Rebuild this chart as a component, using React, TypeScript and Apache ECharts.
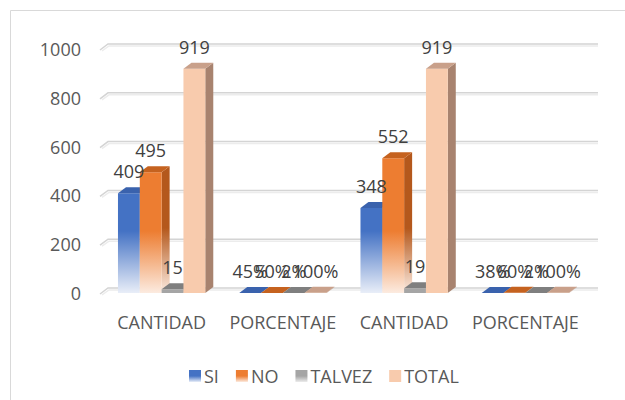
import React, { useEffect, useRef } from "react";
import * as echarts from "echarts";

const categories = ["CANTIDAD", "PORCENTAJE", "CANTIDAD", "PORCENTAJE"];
const seriesNames = ["SI", "NO", "TALVEZ", "TOTAL"];
const siValues = [409, 0.45, 348, 0.38];
const noValues = [495, 0.5, 552, 0.6];
const talvezValues = [15, 0.02, 19, 0.02];
const totalValues = [919, 1, 919, 1];
const yTicks = [0, 200, 400, 600, 800, 1000];

const FONT = "'Open Sans', 'Liberation Sans', sans-serif";
const FS = 18;
const GROUP_RATIO = 0.72;
const DX = 8;
const DY = -6;

const palette = [
  { front: "#4472C4", side: "#2F5597", top: "#3A62AD", fade: "#e9eef8" },
  { front: "#ED7D31", side: "#B4581C", top: "#C5621F", fade: "#fcebe0" },
  { front: "#A5A5A5", side: "#7B7B7B", top: "#7F7F7F", fade: null },
  { front: "#F8CBAD", side: "#A8836F", top: "#C9A08A", fade: null },
];

function fmt(cat: number, v: number) {
  return cat % 2 === 1 ? Math.round(v * 100) + "%" : String(v);
}

function makeRender(si: number) {
  const c = palette[si];
  return (params: any, api: any) => {
    const cat = api.value(0);
    const v = api.value(1);
    const base = api.coord([cat, 0]);
    const top = api.coord([cat, v]);
    const band = api.size([1, 0])[0];
    const groupW = band * GROUP_RATIO;
    const bw = groupW / 4;
    const x0 = base[0] - groupW / 2 + si * bw;
    const x1 = x0 + bw;
    const yB = base[1];
    const yT = top[1];
    const h = Math.max(yB - yT, 0.01);
    let frontFill: any = c.front;
    let sideFill: any = c.side;
    if (c.fade && h > 20) {
      const s = Math.max(0, 1 - 62 / h);
      frontFill = new echarts.graphic.LinearGradient(0, 0, 0, 1, [
        { offset: 0, color: c.front },
        { offset: s, color: c.front },
        { offset: 1, color: c.fade },
      ]);
      sideFill = new echarts.graphic.LinearGradient(0, 0, 0, 1, [
        { offset: 0, color: c.side },
        { offset: s, color: c.side },
        { offset: 1, color: c.fade },
      ]);
    }
    const children: any[] = [
      {
        type: "polygon",
        shape: { points: [[x1, yT], [x1 + DX, yT + DY], [x1 + DX, yB + DY], [x1, yB]] },
        style: { fill: sideFill },
      },
      {
        type: "rect",
        shape: { x: x0, y: yT, width: bw, height: yB - yT },
        style: { fill: frontFill },
      },
      {
        type: "polygon",
        shape: { points: [[x0, yT], [x0 + DX, yT + DY], [x1 + DX, yT + DY], [x1, yT]] },
        style: { fill: c.top },
      },
      {
        type: "text",
        z2: 100,
        style: {
          text: fmt(cat, v),
          x: (x0 + x1) / 2,
          y: yT - 22,
          align: "center",
          verticalAlign: "middle",
          fontSize: FS,
          fontFamily: FONT,
          fill: "#404040",
        },
      },
    ];
    return { type: "group", children };
  };
}

export default function App() {
  const ref = useRef<HTMLDivElement>(null);
  useEffect(() => {
    if (!ref.current) return;
    const chart = echarts.init(ref.current, null, { renderer: "svg" });
    const allValues = [siValues, noValues, talvezValues, totalValues];
    const legendColors = [
      new echarts.graphic.LinearGradient(0, 0, 0, 1, [
        { offset: 0, color: "#4472C4" },
        { offset: 0.5, color: "#4472C4" },
        { offset: 1, color: "#e9eef8" },
      ]),
      new echarts.graphic.LinearGradient(0, 0, 0, 1, [
        { offset: 0, color: "#ED7D31" },
        { offset: 0.5, color: "#ED7D31" },
        { offset: 1, color: "#fcebe0" },
      ]),
      new echarts.graphic.LinearGradient(0, 0, 0, 1, [
        { offset: 0, color: "#A5A5A5" },
        { offset: 0.5, color: "#A5A5A5" },
        { offset: 1, color: "#ececec" },
      ]),
      "#F8CBAD",
    ];
    const barSeries = seriesNames.map((name, si) => ({
      type: "custom",
      name,
      z: 3,
      renderItem: makeRender(si),
      itemStyle: { color: legendColors[si] },
      encode: { x: 0, y: 1 },
      data: allValues[si].map((v, i) => [i, v]),
    }));
    const gridSeries = {
      type: "custom",
      name: "grid",
      z: 1,
      silent: true,
      encode: { x: 0, y: 1 },
      data: yTicks.map((t) => [0, t]),
      renderItem: (params: any, api: any) => {
        const cs = params.coordSys;
        const y = api.coord([0, api.value(1)])[1];
        const left = cs.x;
        const right = cs.x + cs.width + 12;
        return {
          type: "group",
          children: [
            {
              type: "polyline",
              shape: { points: [[left - 1, y + 1], [left + 7, y - 5], [right, y - 5]] },
              style: { stroke: "#d4d4d4", lineWidth: 1.5, fill: "none" },
            },
            {
              type: "polyline",
              shape: { points: [[left + 1, y + 2], [left + 8, y - 3], [right, y - 3]] },
              style: { stroke: "#ececec", lineWidth: 1.5, fill: "none" },
            },
          ],
        };
      },
    };
    chart.setOption({
      animation: false,
      backgroundColor: "#ffffff",
      grid: { left: 101, right: 39, top: 49, bottom: 107, containLabel: false },
      xAxis: {
        type: "category",
        data: categories,
        axisLine: { show: false },
        axisTick: { show: false },
        axisLabel: { color: "#595959", fontSize: FS, fontFamily: FONT, margin: 20, interval: 0 },
      },
      yAxis: {
        type: "value",
        min: 0,
        max: 1000,
        interval: 200,
        axisLine: { show: false },
        axisTick: { show: false },
        splitLine: { show: false },
        axisLabel: {
          color: "#595959",
          fontSize: FS,
          fontFamily: FONT,
          margin: 20,
          formatter: (v: number) => String(v),
        },
      },
      legend: {
        data: seriesNames.map((n) => ({ name: n, icon: "rect" })),
        left: 184,
        top: 362,
        itemWidth: 12,
        itemHeight: 12,
        itemGap: 17,
        textStyle: { color: "#595959", fontSize: FS, fontFamily: FONT, padding: [0, 0, 0, -2] },
      },
      graphic: [
        {
          type: "rect",
          shape: { x: 10.5, y: 10.5, width: 700, height: 500 },
          style: { fill: "none", stroke: "#d9d9d9", lineWidth: 1 },
          z: 0,
        },
      ],
      series: [gridSeries, ...barSeries],
    });
    return () => chart.dispose();
  }, []);
  return (
    <div
      ref={ref}
      style={{ position: "fixed", left: 0, top: 0, width: 625, height: 400 }}
    />
  );
}
